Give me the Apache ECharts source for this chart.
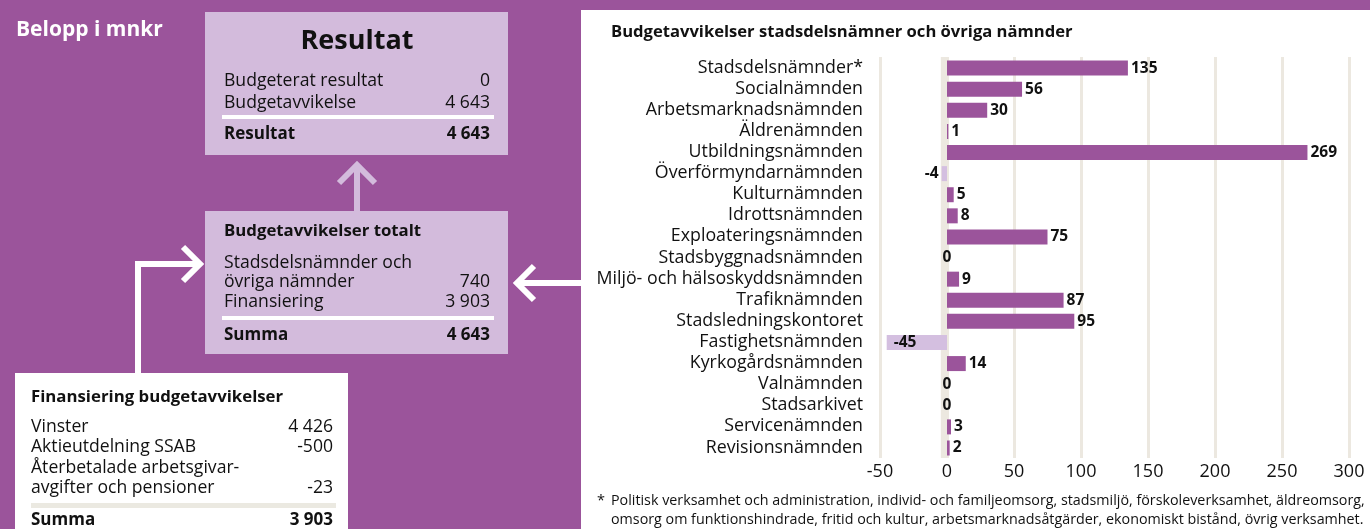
<!DOCTYPE html>
<html>
<head>
<meta charset="utf-8">
<script src="https://cdn.jsdelivr.net/npm/echarts@6/dist/echarts.min.js"></script>
<style>
html,body{margin:0;padding:0;background:#9b549b;}
#chart{width:1370px;height:529px;}
</style>
</head>
<body>
<div id="chart"></div>
<script>
// ---- data ----
const categories = [
  'Stadsdelsnämnder*','Socialnämnden','Arbetsmarknadsnämnden','Äldrenämnden',
  'Utbildningsnämnden','Överförmyndarnämnden','Kulturnämnden','Idrottsnämnden',
  'Exploateringsnämnden','Stadsbyggnadsnämnden','Miljö- och hälsoskyddsnämnden',
  'Trafiknämnden','Stadsledningskontoret','Fastighetsnämnden','Kyrkogårdsnämnden',
  'Valnämnden','Stadsarkivet','Servicenämnden','Revisionsnämnden'
];
const values = [135,56,30,1,269,-4,5,8,75,0,9,87,95,-45,14,0,0,3,2];
const axisMin = -50, axisMax = 300, axisStep = 50;

const chartTitle = 'Budgetavvikelser stadsdelsnämner och övriga nämnder';
const footnoteLines = [
  'Politisk verksamhet och administration, individ- och familjeomsorg, stadsmiljö, förskoleverksamhet, äldreomsorg,',
  'omsorg om funktionshindrade, fritid och kultur, arbetsmarknadsåtgärder, ekonomiskt bistånd, övrig verksamhet.'
];
const unitText = 'Belopp i mnkr';

const resultatTitle = 'Resultat';
const resultatRows = [['Budgeterat resultat','0'],['Budgetavvikelse','4 643']];
const resultatTotal = ['Resultat','4 643'];

const totaltTitle = 'Budgetavvikelser totalt';
const totaltRows = [['Stadsdelsnämnder och',''],['övriga nämnder','740'],['Finansiering','3 903']];
const totaltTotal = ['Summa','4 643'];

const finansTitle = 'Finansiering budgetavvikelser';
const finansRows = [['Vinster','4 426'],['Aktieutdelning SSAB','-500'],['Återbetalade arbetsgivar-',''],['avgifter och pensioner','-23']];
const finansTotal = ['Summa','3 903'];

// ---- styles ----
const PURPLE = '#9b549b';
const LAVENDER = '#d3bbdc';
const NEG = '#d4bfe0';
const GRIDC = '#ece8e0';
const FONT = '"Open Sans", "Noto Sans", sans-serif';
const BOXSIZE = 17.6;

function txt(x, y, text, size, weight, fill, align) {
  return {
    type: 'text', x: x, y: y, z: 10,
    style: {
      text: text, fill: fill || '#111',
      font: (weight || 'normal') + ' ' + size + 'px ' + FONT,
      textAlign: align || 'left', textVerticalAlign: 'middle',
      align: align || 'left', verticalAlign: 'middle'
    }
  };
}
function rect(x, y, w, h, fill, z) {
  return { type: 'rect', z: z == null ? 1 : z, shape: {x: x, y: y, width: w, height: h}, style: {fill: fill} };
}
function poly(points, color, width, z) {
  return { type: 'polyline', z: z == null ? 5 : z, shape: {points: points},
    style: {stroke: color, lineWidth: width, fill: null, lineJoin: 'miter', lineCap: 'butt'} };
}

function table(opts) {
  const els = [];
  const lx = opts.lx, rx = opts.rx;
  opts.rows.forEach((r, i) => {
    const y = opts.rowY[i];
    els.push(txt(lx, y, r[0], opts.size, 'normal', '#111', 'left'));
    if (r[1] !== '') els.push(txt(rx, y, r[1], opts.size, 'normal', '#111', 'right'));
  });
  els.push(rect(opts.lineX0, opts.lineY, opts.lineX1 - opts.lineX0, opts.lineH, opts.lineColor, 3));
  els.push(txt(lx, opts.totalY, opts.total[0], opts.size - 0.6, 'bold', '#111', 'left'));
  els.push(txt(rx, opts.totalY, opts.total[1], opts.size - 0.6, 'bold', '#111', 'right'));
  return els;
}

const graphics = [];
// white chart panel
graphics.push(rect(581, 10, 789, 519, '#ffffff', -5));
graphics.push(txt(16, 30, unitText, 21, 'bold', '#ffffff', 'left'));

// Box 1: Resultat
graphics.push(rect(205, 12, 303, 143, LAVENDER, 1));
graphics.push(txt(357, 41, resultatTitle, 27, 'bold', '#111', 'center'));
graphics.push(...table({lx: 224, rx: 490, rows: resultatRows, rowY: [81, 103], size: BOXSIZE,
  lineX0: 222, lineX1: 494, lineY: 115, lineH: 4, lineColor: '#ffffff', totalY: 134, total: resultatTotal}));

// Up arrow (lavender)
graphics.push(poly([[357, 211], [357, 166]], LAVENDER, 6));
graphics.push(poly([[339, 183], [357, 165], [375, 183]], LAVENDER, 6));

// Box 2: Budgetavvikelser totalt
graphics.push(rect(205, 211, 303, 143, LAVENDER, 1));
graphics.push(txt(224, 231, totaltTitle, 16.8, 'bold', '#111', 'left'));
graphics.push(...table({lx: 224, rx: 490, rows: totaltRows, rowY: [263, 282, 302], size: BOXSIZE,
  lineX0: 222, lineX1: 494, lineY: 316, lineH: 4, lineColor: '#ffffff', totalY: 335, total: totaltTotal}));

// Left connector (white)
graphics.push(poly([[138, 374], [138, 264], [198, 264]], '#ffffff', 6));
graphics.push(poly([[183, 247], [200, 264], [183, 281]], '#ffffff', 6));

// Right arrow (white)
graphics.push(poly([[582, 283], [518, 283]], '#ffffff', 6));
graphics.push(poly([[534, 266], [517, 283], [534, 300]], '#ffffff', 6));

// Box 3: Finansiering
graphics.push(rect(15, 373, 333, 160, '#ffffff', 1));
graphics.push(txt(31, 397, finansTitle, 16.8, 'bold', '#111', 'left'));
graphics.push(...table({lx: 31, rx: 333, rows: finansRows, rowY: [427, 447, 468, 488], size: BOXSIZE,
  lineX0: 31, lineX1: 336, lineY: 503, lineH: 5, lineColor: '#ebe9e1', totalY: 520, total: finansTotal}));

// Footnote
graphics.push(txt(597, 501, '*', 14.5, 'normal', '#111', 'left'));
footnoteLines.forEach((l, i) => graphics.push(txt(611, 501 + i * 19, l, 14.3, 'normal', '#111', 'left')));

// ---- bar data ----
const barData = values.map(v => {
  let pos, dist = 3;
  if (v === 0) { pos = 'inside'; }
  else if (v < -20) { pos = 'insideLeft'; dist = 7; }
  else if (v < 0) { pos = 'left'; }
  else { pos = 'right'; }
  return {
    value: v,
    itemStyle: {color: v < 0 ? NEG : PURPLE},
    label: {position: pos, distance: dist}
  };
});

const chart = echarts.init(document.getElementById('chart'));
chart.setOption({
  backgroundColor: PURPLE,
  animation: false,
  textStyle: {fontFamily: FONT},
  title: {
    text: chartTitle, left: 611, top: 24, padding: 0,
    textStyle: {fontSize: 16.6, fontWeight: 'bold', color: '#111', fontFamily: FONT}
  },
  grid: {left: 880, right: 21, top: 57, bottom: 71, containLabel: false},
  xAxis: {
    type: 'value', min: axisMin, max: axisMax, interval: axisStep,
    axisLine: {show: false}, axisTick: {show: false},
    axisLabel: {fontSize: 18, color: '#111', margin: 5, fontFamily: FONT},
    splitLine: {show: true, lineStyle: {color: GRIDC, width: 3}}
  },
  yAxis: {
    type: 'category', data: categories, inverse: true,
    axisLine: {show: false}, axisTick: {show: false},
    axisLabel: {interval: 0, fontSize: 17.8, color: '#111', margin: 17, fontFamily: FONT}
  },
  series: [
    {
      type: 'bar', z: 1, data: [], silent: true,
      markArea: {silent: true, itemStyle: {color: GRIDC},
        data: [[{xAxis: -4.6}, {xAxis: 0}]]}
    },
    {
      type: 'bar', z: 3, data: barData, barWidth: 15,
      label: {show: true, fontSize: 15.5, fontWeight: 'bold', color: '#111', fontFamily: FONT},
      silent: true
    }
  ],
  graphic: {elements: graphics}
});
</script>
</body>
</html>
